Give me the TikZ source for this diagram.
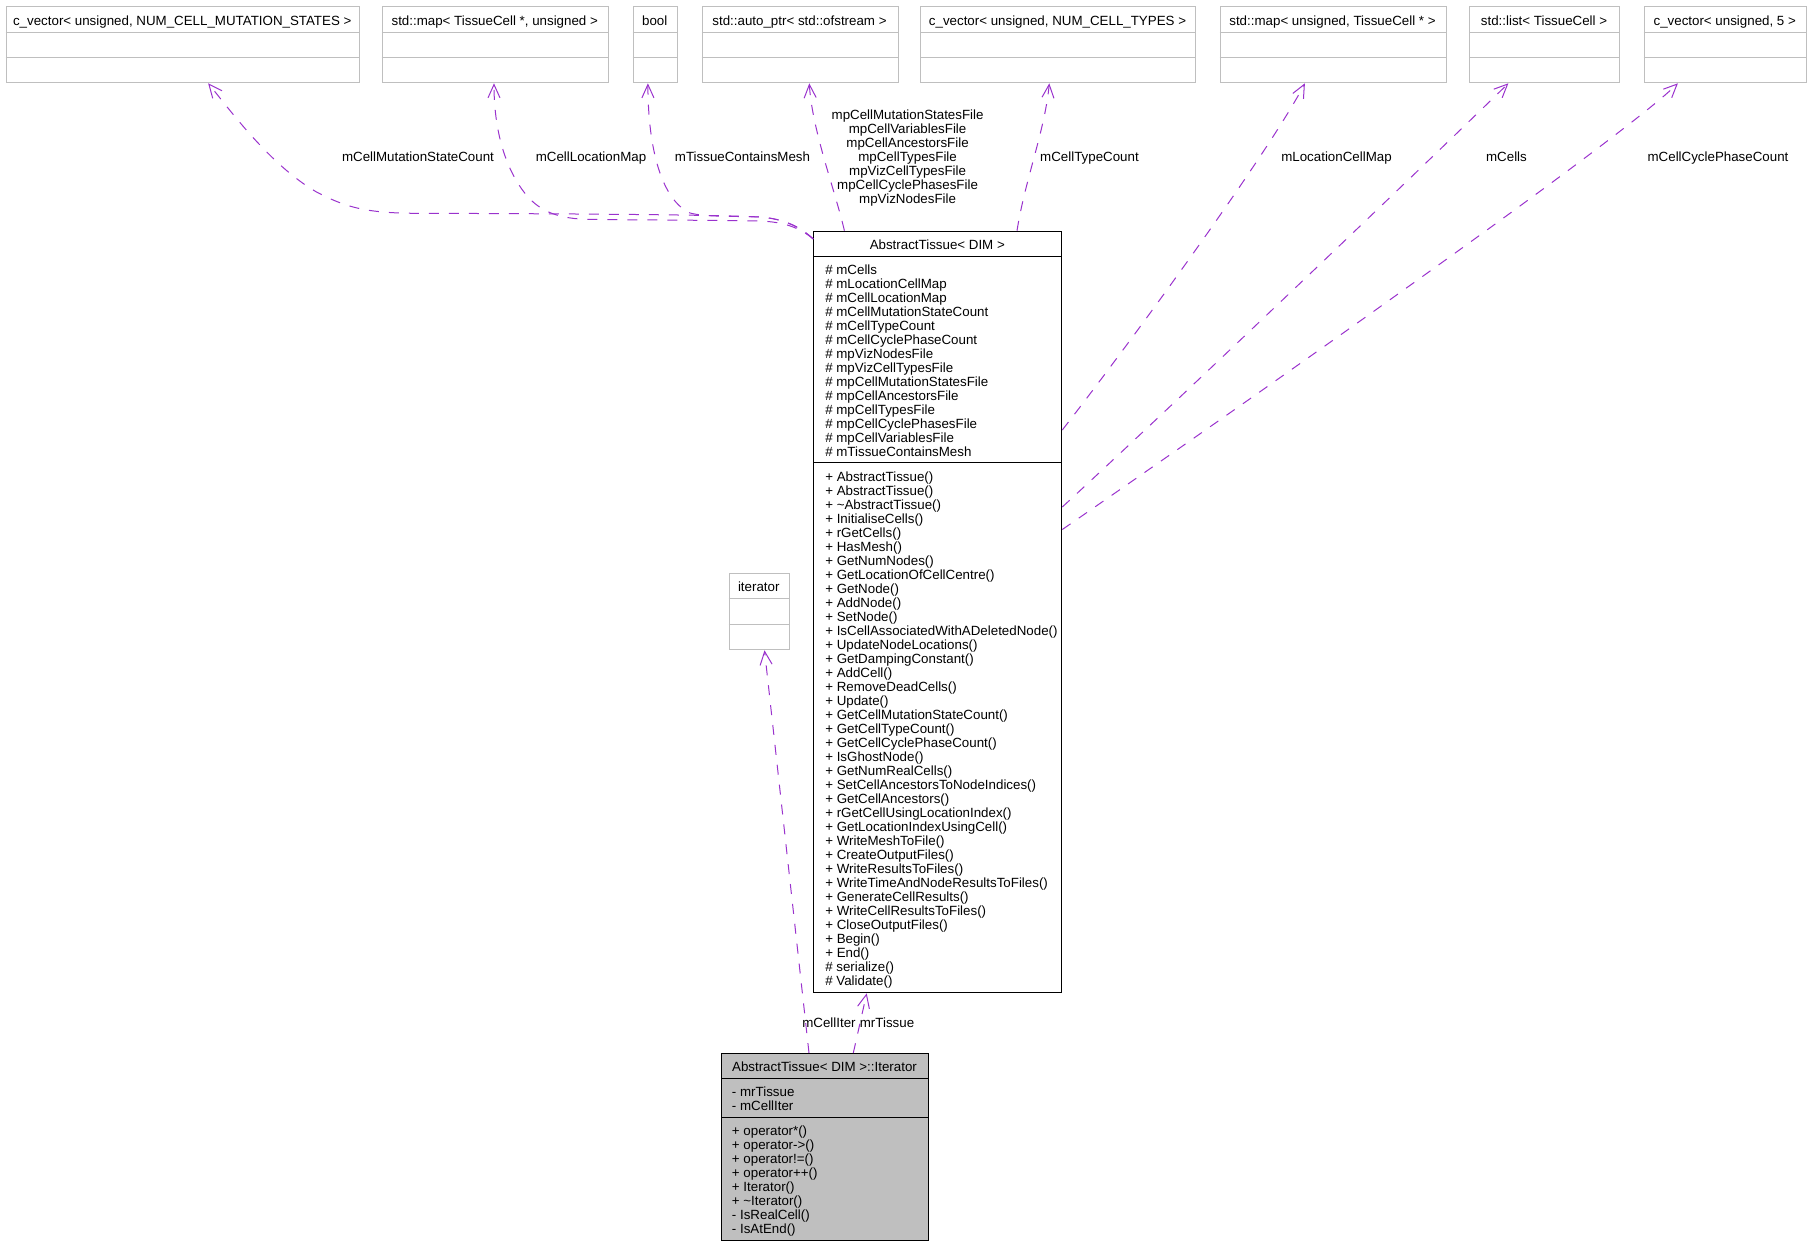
\documentclass[tikz,border=0pt]{standalone}
\usepackage{fontspec}
\setmainfont{Liberation Sans}
\usetikzlibrary{arrows.meta,calc}
\definecolor{edgepurple}{HTML}{9A32CD}
\definecolor{boxgray}{HTML}{BFBFBF}

\begin{document}
\begin{tikzpicture}[x=0.75pt,y=-0.75pt,
  font=\fontsize{10}{10.5}\selectfont,
  graybox/.style={draw=boxgray, line width=0.75pt, inner sep=0pt, anchor=north west},
  classbox/.style={draw=black, line width=0.75pt, inner sep=0pt, anchor=north west},
  grayline/.style={draw=boxgray, line width=0.75pt},
  blackline/.style={draw=black, line width=0.75pt},
  boxtitle/.style={anchor=base, inner sep=0pt},
  members/.style={anchor=north west, inner sep=0pt, align=left},
  uselabel/.style={anchor=base, inner sep=0pt},
  useedge/.style={edgepurple, line width=0.75pt, dash pattern=on 7.5pt off 7.5pt,
    -{Straight Barb[length=10pt,width=9pt]}}]
\useasboundingbox (0,0) rectangle (1811,1245);

% used classes along the top
\node[graybox, minimum width=265.125pt, minimum height=57.225pt] (cvmut) at (5.5,6) {};
\node[boxtitle] (cvmut-t) at (182.25,25.3) {c\_vector< unsigned, NUM\_CELL\_MUTATION\_STATES >};
\draw[grayline] (5.5,32.3) -- (359,32.3);
\draw[grayline] (5.5,57.3) -- (359,57.3);

\node[graybox, minimum width=169.875pt, minimum height=57.225pt] (maptc) at (381.5,6) {};
\node[boxtitle] (maptc-t) at (494.75,25.3) {std::map< TissueCell *, unsigned >};
\draw[grayline] (381.5,32.3) -- (608,32.3);
\draw[grayline] (381.5,57.3) -- (608,57.3);

\node[graybox, minimum width=33.375pt, minimum height=57.225pt] (boolbox) at (632.5,6) {};
\node[boxtitle] (boolbox-t) at (654.75,25.3) {bool};
\draw[grayline] (632.5,32.3) -- (677,32.3);
\draw[grayline] (632.5,57.3) -- (677,57.3);

\node[graybox, minimum width=147pt, minimum height=57.225pt] (autoptr) at (701.5,6) {};
\node[boxtitle] (autoptr-t) at (799.5,25.3) {std::auto\_ptr< std::ofstream >};
\draw[grayline] (701.5,32.3) -- (897.5,32.3);
\draw[grayline] (701.5,57.3) -- (897.5,57.3);

\node[graybox, minimum width=206.25pt, minimum height=57.225pt] (cvtype) at (920,6) {};
\node[boxtitle] (cvtype-t) at (1057.5,25.3) {c\_vector< unsigned, NUM\_CELL\_TYPES >};
\draw[grayline] (920,32.3) -- (1195,32.3);
\draw[grayline] (920,57.3) -- (1195,57.3);

\node[graybox, minimum width=169.5pt, minimum height=57.225pt] (mapuc) at (1219.5,6) {};
\node[boxtitle] (mapuc-t) at (1332.5,25.3) {std::map< unsigned, TissueCell * >};
\draw[grayline] (1219.5,32.3) -- (1445.5,32.3);
\draw[grayline] (1219.5,57.3) -- (1445.5,57.3);

\node[graybox, minimum width=112.5pt, minimum height=57.225pt] (celllist) at (1469,6) {};
\node[boxtitle] (celllist-t) at (1544,25.3) {std::list< TissueCell >};
\draw[grayline] (1469,32.3) -- (1619,32.3);
\draw[grayline] (1469,57.3) -- (1619,57.3);

\node[graybox, minimum width=121.875pt, minimum height=57.225pt] (cvfive) at (1643.5,6) {};
\node[boxtitle] (cvfive-t) at (1724.75,25.3) {c\_vector< unsigned, 5 >};
\draw[grayline] (1643.5,32.3) -- (1806,32.3);
\draw[grayline] (1643.5,57.3) -- (1806,57.3);

% AbstractTissue
\node[classbox, minimum width=186pt, minimum height=571.2pt] (tissue) at (813.3,230.7) {};
\node[boxtitle] (tissue-t) at (937.3,249.8) {AbstractTissue< DIM >};
\draw[blackline] (813.3,256.7) -- (1061.3,256.7);
\draw[blackline] (813.3,462.7) -- (1061.3,462.7);
\node[members] (tissue-attr) at (825,264.9) {\strut\# mCells\\\# mLocationCellMap\\\# mCellLocationMap\\
  \# mCellMutationStateCount\\\# mCellTypeCount\\\# mCellCyclePhaseCount\\\# mpVizNodesFile\\
  \# mpVizCellTypesFile\\\# mpCellMutationStatesFile\\\# mpCellAncestorsFile\\\# mpCellTypesFile\\
  \# mpCellCyclePhasesFile\\\# mpCellVariablesFile\\\# mTissueContainsMesh};
\node[members] (tissue-ops) at (825,471.2) {\strut+ AbstractTissue()\\+ AbstractTissue()\\
  + \textasciitilde AbstractTissue()\\+ InitialiseCells()\\+ rGetCells()\\+ HasMesh()\\+ GetNumNodes()\\
  + GetLocationOfCellCentre()\\+ GetNode()\\+ AddNode()\\+ SetNode()\\+ IsCellAssociatedWithADeletedNode()\\
  + UpdateNodeLocations()\\+ GetDampingConstant()\\+ AddCell()\\+ RemoveDeadCells()\\+ Update()\\
  + GetCellMutationStateCount()\\+ GetCellTypeCount()\\+ GetCellCyclePhaseCount()\\+ IsGhostNode()\\
  + GetNumRealCells()\\+ SetCellAncestorsToNodeIndices()\\+ GetCellAncestors()\\
  + rGetCellUsingLocationIndex()\\+ GetLocationIndexUsingCell()\\+ WriteMeshToFile()\\
  + CreateOutputFiles()\\+ WriteResultsToFiles()\\+ WriteTimeAndNodeResultsToFiles()\\
  + GenerateCellResults()\\+ WriteCellResultsToFiles()\\+ CloseOutputFiles()\\+ Begin()\\+ End()\\
  \# serialize()\\\# Validate()};

% std iterator
\node[graybox, minimum width=45.375pt, minimum height=57pt] (stditer) at (728.5,573.3) {};
\node[boxtitle] (stditer-t) at (758.75,591.8) {iterator};
\draw[grayline] (728.5,598.3) -- (789,598.3);
\draw[grayline] (728.5,624.3) -- (789,624.3);

% AbstractTissue< DIM >::Iterator
\node[classbox, fill=boxgray, minimum width=155.25pt, minimum height=140.25pt] (iter) at (721,1053) {};
\node[boxtitle] (iter-t) at (824.5,1071.7) {AbstractTissue< DIM >::Iterator};
\draw[blackline] (721,1078.3) -- (928,1078.3);
\draw[blackline] (721,1117) -- (928,1117);
\node[members] (iter-attr) at (731.7,1086.6) {\strut- mrTissue\\- mCellIter};
\node[members] (iter-ops) at (731.7,1125.6) {\strut+ operator*()\\+ operator->()\\+ operator!=()\\
  + operator++()\\+ Iterator()\\+ \textasciitilde Iterator()\\- IsRealCell()\\- IsAtEnd()};

% usage edges
\draw[useedge] ($(tissue.north west)+(0,8.3)$) .. controls (800,227) and (785,219) .. (760,217)
  .. controls (700,214) and (480,213.5) .. (415,213.3)
  .. controls (365,213) and (345,207) .. (316,191.7)
  .. controls (270,165) and (230,110) .. ($(cvmut.south)+(25.4,0)$);
\draw[useedge] ($(tissue.north west)+(0,8.3)$) .. controls (800,228) and (785,222) .. (760,221)
  .. controls (700,220) and (620,220) .. (585,219.3)
  .. controls (555,218) and (540,210) .. (527.7,196.7)
  .. controls (505,170) and (494,130) .. ($(maptc.south)+(-1.25,0)$);
\draw[useedge] ($(tissue.north west)+(0,8.3)$) .. controls (800,227) and (785,219) .. (760,217)
  .. controls (730,216) and (705,217) .. (690,213)
  .. controls (662,200) and (648,150) .. ($(boolbox.south)+(-7.35,0)$);
\draw[useedge] ($(tissue.north west)+(31.1,0)$) .. controls (835,190) and (812,130) .. ($(autoptr.south)+(9.3,0)$);
\draw[useedge] ($(tissue.north west)+(203.7,0)$) .. controls (1025,180) and (1045,130) .. ($(cvtype.south)+(-8.7,0)$);
\draw[useedge] ($(tissue.north east)+(0,199.3)$) .. controls (1140,330) and (1270,150) .. ($(mapuc.south)+(-28.1,0)$);
\draw[useedge] ($(tissue.north east)+(0,276.3)$) .. controls (1200,380) and (1440,150) .. ($(celllist.south)+(-36.1,0)$);
\draw[useedge] ($(tissue.north east)+(0,298.8)$) .. controls (1250,400) and (1620,140) .. ($(cvfive.south)+(-47.35,0)$);
\draw[useedge] ($(iter.north west)+(88,0)$) -- ($(stditer.south)+(5.25,0)$);
\draw[useedge] ($(iter.north west)+(132.3,0)$) -- ($(tissue.south west)+(53.4,0)$);

% edge labels
\node[uselabel] (lbl-mutation) at (418,161.4) {mCellMutationStateCount};
\node[uselabel] (lbl-cellloc) at (591,161.4) {mCellLocationMap};
\node[uselabel] (lbl-mesh) at (742.5,161.4) {mTissueContainsMesh};
\node[anchor=north, inner sep=0pt, align=center] (lbl-files) at (907.6,109.9) {\strut mpCellMutationStatesFile\\
  mpCellVariablesFile\\mpCellAncestorsFile\\mpCellTypesFile\\mpVizCellTypesFile\\
  mpCellCyclePhasesFile\\mpVizNodesFile};
\node[uselabel] (lbl-types) at (1089.5,161.4) {mCellTypeCount};
\node[uselabel] (lbl-loccell) at (1336.5,161.4) {mLocationCellMap};
\node[uselabel] (lbl-cells) at (1506.5,161.4) {mCells};
\node[uselabel] (lbl-phase) at (1718,161.4) {mCellCyclePhaseCount};
\node[uselabel] (lbl-celliter) at (829,1027.4) {mCellIter};
\node[uselabel] (lbl-tissue) at (887,1027.4) {mrTissue};
\end{tikzpicture}
\end{document}
